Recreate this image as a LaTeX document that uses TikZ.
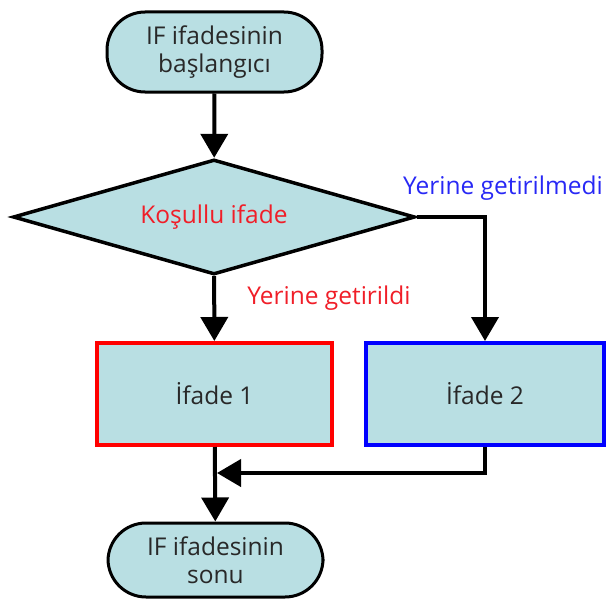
\documentclass[tikz,border=0pt]{standalone}
\usepackage{fontspec}
\setmainfont{Open Sans}
\usetikzlibrary{shapes.geometric,arrows.meta}

\definecolor{boxfill}{RGB}{185,223,227}
\definecolor{boxtext}{RGB}{40,40,40}
\definecolor{yeslabel}{RGB}{240,30,40}
\definecolor{nolabel}{RGB}{40,40,245}

\tikzset{
  base/.style={fill=boxfill, text=boxtext, inner sep=0pt, align=center,
    font=\fontsize{24.5}{28}\selectfont},
  terminal/.style={base, draw=black, line width=3pt, rounded corners=38pt,
    minimum width=215pt},
  decision/.style={base, diamond, draw=black, line width=3.5pt,
    shape aspect=3.5, minimum width=402pt, minimum height=115pt},
  process/.style={base, draw, line width=4pt, minimum height=102pt},
  flow/.style={draw=black, line width=4pt,
    -{Triangle[length=24pt,width=27pt]}},
  branchlabel/.style={font=\fontsize{24.5}{28}\selectfont, inner sep=0pt}
}

\begin{document}
\begin{tikzpicture}[x=1pt,y=-1pt]
  \useasboundingbox (0,0) rectangle (610,602);

  % flowchart nodes
  \node[terminal, minimum height=80pt] (start) at (214.5,52)
    {IF ifadesinin\\başlangıcı};
  \node[decision] (cond) at (214,217) {\textcolor{yeslabel}{Koşullu ifade}};
  \node[process, draw=red, minimum width=235pt] (stmt1) at (214.5,394) {İfade 1};
  \node[process, draw=blue, minimum width=238pt] (stmt2) at (485,394) {İfade 2};
  \node[terminal, minimum height=74pt] (stop) at (215.5,560)
    {IF ifadesinin\\sonu};

  % branch labels
  \node[branchlabel, text=yeslabel] (lblyes) at (329,298) {Yerine getirildi};
  \node[branchlabel, text=nolabel] (lblno) at (503,188) {Yerine getirilmedi};

  % join point where the false branch meets the main line
  \coordinate (join) at (217,473);

  % connectors
  \draw[flow] (start) -- (cond);
  \draw[flow] (cond) -- (stmt1);
  \draw[flow] (cond.east) -| (stmt2.north);
  \draw[flow] (stmt1) -- (stop);
  \draw[flow] (stmt2.south) |- (join);
\end{tikzpicture}
\end{document}
